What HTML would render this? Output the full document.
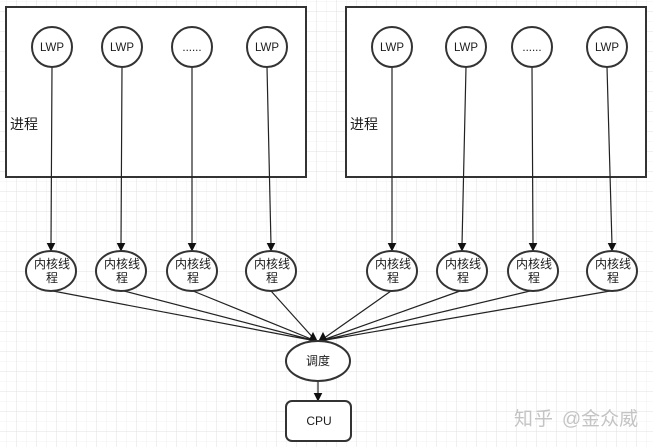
<!DOCTYPE html>
<html><head><meta charset="utf-8">
<style>
html,body{margin:0;padding:0;background:#fff;width:653px;height:447px;overflow:hidden}
svg{display:block}
text{font-family:"Liberation Sans","Noto Sans CJK SC",sans-serif;fill:#1c1c1c;text-anchor:middle}
.n{fill:#fff;stroke:#333;stroke-width:2}
.l{stroke:#222;stroke-width:1.2;fill:none}
.h{fill:#111;stroke:#111;stroke-width:1;stroke-linejoin:miter}
</style></head><body>
<svg width="653" height="447" viewBox="0 0 653 447" xmlns="http://www.w3.org/2000/svg">
<defs>
<pattern id="minor" width="10" height="10" patternUnits="userSpaceOnUse" x="6.5" y="1.5">
<path d="M0 0H10M0 0V10" stroke="#f1f1f1" stroke-width="1" fill="none"/>
</pattern>
<pattern id="major" width="20" height="20" patternUnits="userSpaceOnUse" x="16.5" y="11.5">
<path d="M0 0H20M0 0V20" stroke="#e0e0e0" stroke-width="1" fill="none"/>
</pattern>
</defs>
<rect width="653" height="447" fill="#fff"/>
<rect width="653" height="447" fill="url(#minor)"/>
<rect width="653" height="447" fill="url(#major)"/>

<rect class="n" x="6" y="7" width="300" height="170"/>
<rect class="n" x="346" y="7" width="300" height="170"/>
<text x="24" y="129" font-size="14">进程</text>
<text x="364" y="129" font-size="14">进程</text>

<g class="l">
<path d="M52 67L51 245M122 67L121 245M192 67L192 245M267 67L271 245"/>
<path d="M392 67L392 245M466 67L462 245M532 67L533 245M607 67L612 245"/>
<path d="M53 291L316 341M124 291L316 341M193 291L316 341M271 291L316 341"/>
<path d="M391 291L320 341M460 291L320 341M530 291L320 341M610 291L320 341"/>
<path d="M318 381L318 393"/>
</g>
<g class="h">
<path d="M47.5 243.5h7l-3.500 7zM117.500 243.500h7l-3.500 7zM188.500 243.500h7l-3.500 7zM267.500 243.500h7l-3.500 7z"/>
<path d="M388.500 243.500h7l-3.500 7zM458.500 243.500h7l-3.500 7zM529.500 243.500h7l-3.500 7zM608.500 243.500h7l-3.500 7z"/>
<path d="M309.500 340l3.500-7 3.500 7zM319.500 340l3.500-7 3.500 7z"/>
<path d="M314.500 393.500h7l-3.500 7z"/>
</g>

<g class="n">
<circle cx="52" cy="47" r="20"/><circle cx="122" cy="47" r="20"/><circle cx="192" cy="47" r="20"/><circle cx="267" cy="47" r="20"/>
<circle cx="392" cy="47" r="20"/><circle cx="466" cy="47" r="20"/><circle cx="532" cy="47" r="20"/><circle cx="607" cy="47" r="20"/>
<ellipse cx="51" cy="271" rx="25" ry="20"/><ellipse cx="121" cy="271" rx="25" ry="20"/><ellipse cx="192" cy="271" rx="25" ry="20"/><ellipse cx="271" cy="271" rx="25" ry="20"/>
<ellipse cx="392" cy="271" rx="25" ry="20"/><ellipse cx="462" cy="271" rx="25" ry="20"/><ellipse cx="533" cy="271" rx="25" ry="20"/><ellipse cx="612" cy="271" rx="25" ry="20"/>
<ellipse cx="318" cy="361" rx="32" ry="20"/>
<rect x="286" y="401" width="65" height="40" rx="6" ry="6"/>
</g>

<g font-size="11.5">
<text x="52" y="51">LWP</text><text x="122" y="51">LWP</text><text x="192" y="51">......</text><text x="267" y="51">LWP</text>
<text x="392" y="51">LWP</text><text x="466" y="51">LWP</text><text x="532" y="51">......</text><text x="607" y="51">LWP</text>
</g>
<g font-size="12">
<text x="52" y="268">内核线</text><text x="52" y="282">程</text>
<text x="122" y="268">内核线</text><text x="122" y="282">程</text>
<text x="193" y="268">内核线</text><text x="193" y="282">程</text>
<text x="272" y="268">内核线</text><text x="272" y="282">程</text>
<text x="393" y="268">内核线</text><text x="393" y="282">程</text>
<text x="463" y="268">内核线</text><text x="463" y="282">程</text>
<text x="534" y="268">内核线</text><text x="534" y="282">程</text>
<text x="613" y="268">内核线</text><text x="613" y="282">程</text>
<text x="318" y="365">调度</text>
<text x="319" y="425">CPU</text>
</g>

<g font-size="19">
<text x="534" y="425" style="fill:#c4c4c4;letter-spacing:1px">知乎</text>
<text x="600" y="425" style="fill:#c4c4c4">@金众威</text>
</g>
</svg>
</body></html>
